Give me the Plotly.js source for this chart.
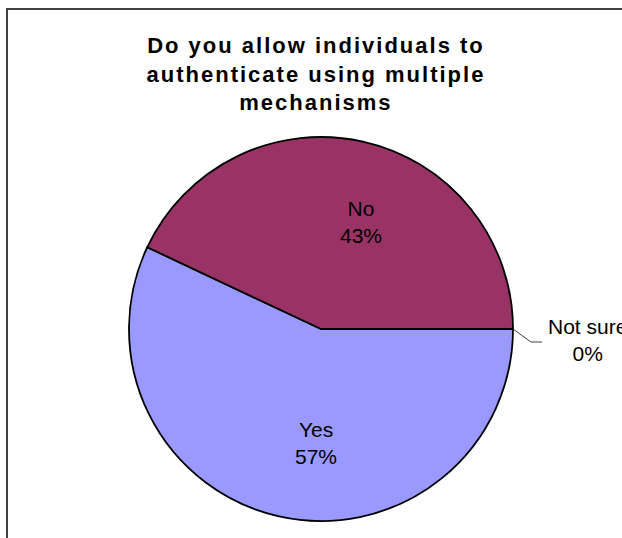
<!DOCTYPE html>
<html>
<head>
<meta charset="utf-8">
<script src="https://cdn.plot.ly/plotly-3.0.1.min.js"></script>
<style>
  html, body { margin: 0; padding: 0; background: #ffffff; }
  #chart { width: 622px; height: 538px; }
  .gtitle { letter-spacing: 2px; }
</style>
</head>
<body>
<div id="chart"></div>
<script>
// Survey answers
const answers = ['Yes', 'No', 'Not sure'];
const shares = [57, 43, 0];
const sliceColors = ['#9999FF', '#993366', '#FFFFCC'];

// Page geometry (pixels)
const W = 622, H = 538;
const cx = 321, cy = 329, R = 192;
const labelFont = { family: 'Liberation Sans, Arial, sans-serif', size: 21, color: '#000000' };

const total = shares.reduce((a, b) => a + b, 0);
const pct = shares.map(v => Math.round(100 * v / total) + '%');

// wrap an angle into (-180, 180]
const wrap = d => { let a = ((d % 360) + 360) % 360; return a > 180 ? a - 360 : a; };

// Slices start at 3 o'clock and run clockwise
const startDeg = 0;
const annotations = [];
const shapes = [];
let cum = 0;
shares.forEach((v, i) => {
  const a0 = startDeg - 360 * cum / total;
  cum += v;
  const a1 = startDeg - 360 * cum / total;
  const text = answers[i] + '<br>' + pct[i];
  if (v !== 0) {
    // label inside the slice, pulled slightly toward the 3 o'clock axis
    const mid = 0.9 * wrap((a0 + a1) / 2) * Math.PI / 180;
    const r = 0.595 * R;
    annotations.push({
      xref: 'paper', yref: 'paper',
      x: (cx + r * Math.cos(mid)) / W, y: 1 - (cy - r * Math.sin(mid)) / H,
      xanchor: 'center', yanchor: 'middle',
      text: text, showarrow: false, font: labelFont, align: 'center'
    });
    return;
  }
  // zero-size slice: label outside with an elbow leader line
  const th = a0 * Math.PI / 180;
  const px = cx + R * Math.cos(th), py = cy - R * Math.sin(th);
  const ex = px + 18, ey = py + 13, hx = ex + 11;
  shapes.push({
    type: 'path', xref: 'paper', yref: 'paper',
    path: `M ${px / W} ${1 - py / H} L ${ex / W} ${1 - ey / H} L ${hx / W} ${1 - ey / H}`,
    line: { color: '#404040', width: 1 }
  });
  annotations.push({
    xref: 'paper', yref: 'paper',
    x: (hx + 45) / W, y: 1 - (ey - 2) / H,
    xanchor: 'center', yanchor: 'middle',
    text: text, showarrow: false, font: labelFont, align: 'center'
  });
});

// Chart border
shapes.push({
  type: 'rect', xref: 'paper', yref: 'paper',
  x0: 7 / W, x1: 1.2, y0: -0.2, y1: 1 - 9 / H,
  line: { color: '#404040', width: 2 }, fillcolor: 'rgba(0,0,0,0)'
});

const trace = {
  type: 'pie',
  labels: answers,
  values: shares,
  sort: false,
  direction: 'clockwise',
  rotation: 90,
  marker: { colors: sliceColors, line: { color: '#000000', width: 1.8 } },
  textinfo: 'none',
  hoverinfo: 'skip',
  showlegend: false,
  domain: { x: [(cx - R) / W, (cx + R) / W], y: [1 - (cy + R) / H, 1 - (cy - R) / H] }
};

const layout = {
  width: W, height: H,
  margin: { l: 0, r: 0, t: 0, b: 0 },
  paper_bgcolor: '#ffffff',
  title: {
    text: 'Do you allow individuals to<br>authenticate using multiple<br>mechanisms',
    font: { family: 'Liberation Sans, Arial, sans-serif', size: 22, color: '#000000', weight: 'bold' },
    x: 0.508, xanchor: 'center',
    yref: 'container', y: 1 - 53 / H, yanchor: 'top'
  },
  shapes: shapes,
  annotations: annotations,
  showlegend: false
};

Plotly.newPlot('chart', [trace], layout, { staticPlot: true, displayModeBar: false });
</script>
</body>
</html>
